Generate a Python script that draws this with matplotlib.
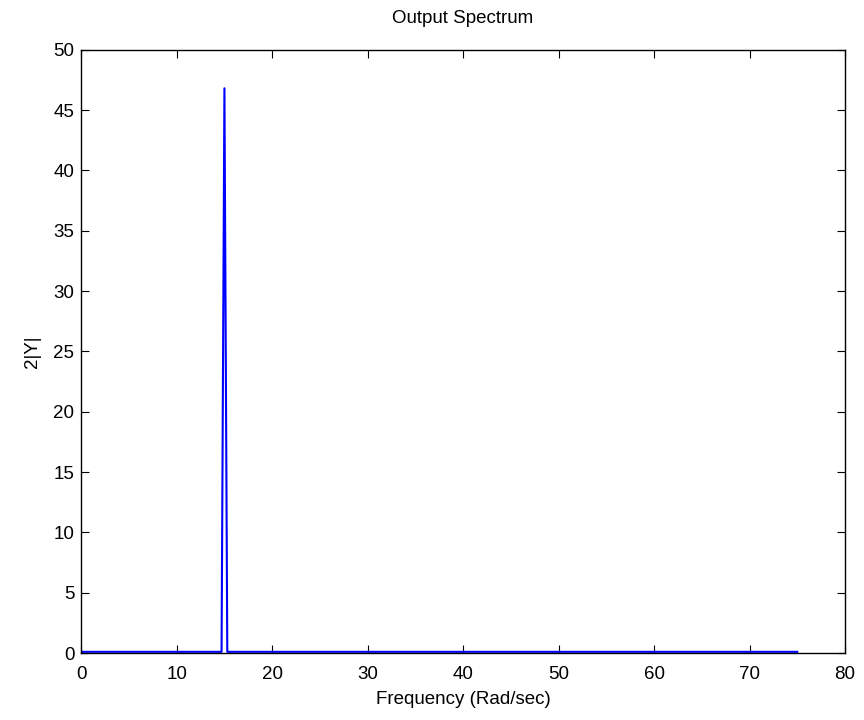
import matplotlib
matplotlib.use('Agg')
import matplotlib.pyplot as plt

plt.rcParams['font.family'] = ['Liberation Sans', 'DejaVu Sans']

# spectrum samples
freq = [0, 14.7, 15.0, 15.3, 75.0]
amp = [0.1, 0.1, 46.8, 0.1, 0.1]

fig = plt.figure(figsize=(8.64, 7.2), dpi=100)
ax = fig.add_axes([0.094, 0.093, 0.884, 0.838])

ax.plot(freq, amp, color='#0000ff', linewidth=1.5)

ax.set_xlim(0, 80)
ax.set_ylim(0, 50)
ax.set_xticks(range(0, 81, 10))
ax.set_yticks(range(0, 51, 5))
ax.tick_params(direction='in', top=True, right=True, labelsize=13.5, length=5.5, width=0.8)
ax.tick_params(axis='x', pad=9)
ax.tick_params(axis='y', pad=5)
for s in ax.spines.values():
    s.set_linewidth(1.0)

ax.set_title('Output Spectrum', fontsize=13.5, pad=19)
ax.set_xlabel('Frequency (Rad/sec)', fontsize=13.5, labelpad=6)
ax.set_ylabel('2|Y|', fontsize=13.5, labelpad=9)

fig.savefig('out.png', dpi=100)
